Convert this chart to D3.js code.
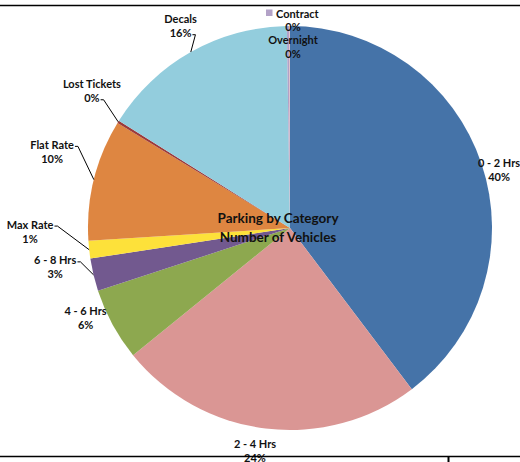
<!DOCTYPE html>
<html><head><meta charset="utf-8">
<script src="https://cdn.jsdelivr.net/npm/d3@7"></script>
<style>
html,body{margin:0;padding:0;background:#fff;}
text{font-family:Lato,"Open Sans",sans-serif;font-weight:bold;fill:#111;}
</style></head>
<body><svg id="c" width="520" height="462"></svg>
<script>
// ---- data ----
const categories = ["0 - 2 Hrs","2 - 4 Hrs","4 - 6 Hrs","6 - 8 Hrs","Max Rate","Flat Rate","Lost Tickets","Decals","Contract","Overnight"];
const vehicles   = [3960, 2440, 580, 260, 140, 970, 20, 1580, 20, 5];
const colors     = ["#4573A8","#DA9694","#8DA84F","#72598F","#FDE13A","#DE8641","#9C3A3A","#93CDDD","#B3A2C7","#E6B9B8"];
const titleLines = ["Parking by Category","Number of Vehicles"];
const legendItems = ["Contract"];

// ---- layout (not data) ----
const W = 520, H = 462, cx = 290, cy = 228, R = 202;
const deg = Math.PI/180;
const labelLayout = {
  "0 - 2 Hrs":   {dA: 3,   dr: 15},
  "2 - 4 Hrs":   {dA: 2,   dr: 23},
  "4 - 6 Hrs":   {dA: 5,   dr: 21},
  "6 - 8 Hrs":   {dA: 4,   dr: 36, leader: "name"},
  "Max Rate":    {dA: 5.5, dr: 58, leader: "name"},
  "Flat Rate":   {dA: 4,   dr: 48, leader: "name"},
  "Lost Tickets":{dA: 3,   dr: 39, leader: "pct"},
  "Decals":      {dA: 1,   dr: 28, leader: "pct"},
  "Contract":    {fixed: [293, 26], pctOnly: true},
  "Overnight":   {fixed: [293, 46.5]}
};

const svg = d3.select("#c");
const total = d3.sum(vehicles);
const items = categories.map((c,i)=>({name:c, value:vehicles[i], color:colors[i]}));
const pie = d3.pie().sort(null).value(d=>d.value);
const arcs = pie(items);
const arc = d3.arc().innerRadius(0).outerRadius(R);

const g = svg.append("g").attr("transform",`translate(${cx},${cy})`);
g.selectAll("path").data(arcs).join("path")
  .attr("d", arc).attr("fill", d=>d.data.color);

svg.append("line").attr("x1",0).attr("x2",W).attr("y1",5.5).attr("y2",5.5).attr("stroke","#000").attr("stroke-width",1.6);

const tg = svg.append("g");
titleLines.forEach((t,i)=>{
  tg.append("text").attr("x",278).attr("y",218+i*19).attr("text-anchor","middle")
    .attr("dominant-baseline","central").style("font-size","13.5px").text(t);
});

const fmt = v => Math.round(v/total*100) + "%";
const lg = svg.append("g");
arcs.forEach(a=>{
  const L = labelLayout[a.data.name];
  const mid = (a.startAngle + a.endAngle)/2;
  let x, y;
  if (L.fixed) { [x,y] = L.fixed; }
  else {
    const ang = mid + L.dA*deg, rr = R + L.dr;
    x = cx + rr*Math.sin(ang); y = cy - rr*Math.cos(ang);
  }
  const lines = L.pctOnly ? [fmt(a.data.value)] : [a.data.name, fmt(a.data.value)];
  const y0 = L.pctOnly ? y : y - 7;
  const nodes = lines.map((t,i)=> lg.append("text").attr("x",x).attr("y",y0+i*14)
      .attr("text-anchor","middle").attr("dominant-baseline","central")
      .style("font-size","11px").text(t));
  if (L.leader) {
    const node = nodes[L.leader==="name"?0:1].node();
    const bb = node.getBBox();
    const sx = bb.x + bb.width + 1, sy = bb.y + bb.height*0.5 + 2;
    const ex = cx + R*Math.sin(mid), ey = cy - R*Math.cos(mid);
    lg.append("path").attr("d", `M${sx},${sy}H${sx+3}L${ex},${ey}`)
      .attr("fill","none").attr("stroke","#000").attr("stroke-width",1);
  }
});

const leg = svg.append("g");
legendItems.forEach(n=>{
  const i = categories.indexOf(n);
  leg.append("rect").attr("x",266).attr("y",9.5).attr("width",6.5).attr("height",6.5).attr("fill",colors[i]);
  leg.append("text").attr("x",276).attr("y",13).attr("dominant-baseline","central").style("font-size","11px").text(n);
});

svg.append("line").attr("x1",0).attr("x2",W).attr("y1",456.5).attr("y2",456.5).attr("stroke","#000").attr("stroke-width",1.6);
svg.append("line").attr("x1",448.5).attr("x2",448.5).attr("y1",456).attr("y2",462).attr("stroke","#000").attr("stroke-width",2);
</script></body></html>
